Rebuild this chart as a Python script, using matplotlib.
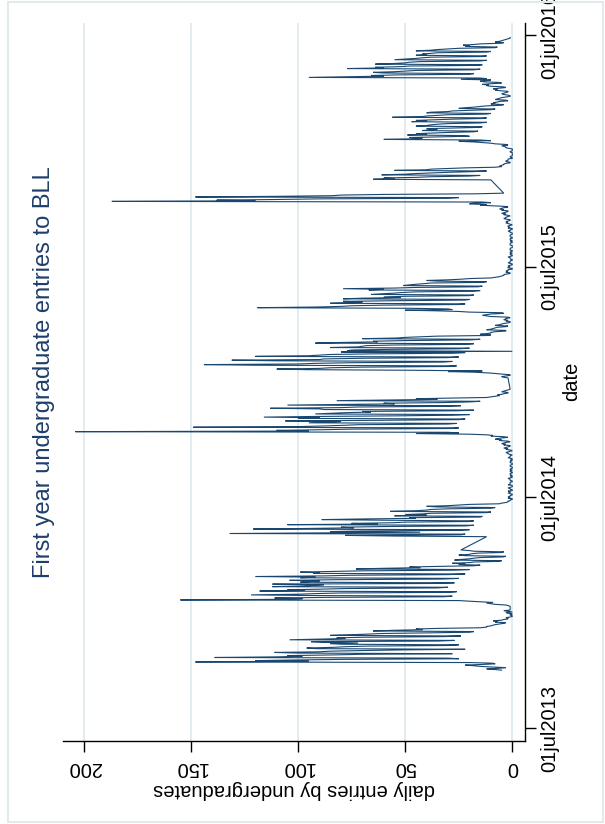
import numpy as np
import pandas as pd
import matplotlib
matplotlib.use('Agg')
import matplotlib.pyplot as plt
import matplotlib.dates as mdates
from matplotlib.patches import Rectangle

plt.rcParams['font.family'] = ['Liberation Sans', 'DejaVu Sans']

# ---------------- data (daily entries) ----------------
pre_mt13 = [5, 8, 12, 6, 3, 10, 15, 18, 22, 14, 8, 9, 20]
mt13 = [148, 95, 120, 103, 80, 25, 30,
        139, 110, 98, 105, 85, 71, 28,
        100, 111, 90, 85, 70, 51, 22,
        92, 96, 84, 78, 68, 30, 25,
        80, 85, 72, 88, 94, 35, 27,
        104, 90, 78, 82, 70, 32, 24,
        85, 75, 68, 60, 38, 20, 18,
        65, 55, 42, 45, 35, 15, 12]
xmas13 = [12, 10, 9, 8, 6, 4, 3,
          8, 7, 9, 5, 4, 2, 2,
          3, 1, 0, 0, 1, 1, 0,
          2, 3, 0, 2, 4, 1, 1,
          1, 1, 1, 1, 1, 2, 3,
          8, 10, 12, 9, 15, 20, 25]
ht14 = [155, 105, 98, 111, 88, 32, 28,
        95, 122, 100, 92, 80, 30, 26,
        118, 97, 105, 90, 78, 35, 30,
        112, 100, 92, 88, 112, 38, 27,
        99, 95, 90, 104, 82, 33, 25,
        99, 92, 120, 88, 75, 30, 22,
        93, 90, 99, 85, 70, 28, 20,
        73, 60, 43, 48, 35, 18, 15]
easter14 = [25, 22, 28, 20, 18, 6, 5,
            27, 24, 20, 18, 15, 4, 3,
            22, 25, 20, 19, 16, 5, 4,
            18, 20, 24]
tt14 = [12, 55, 78, 24, 22,
        132, 90, 43, 85, 70, 25, 20,
        121, 95, 74, 80, 60, 22, 18,
        105, 63, 75, 56, 50, 20, 18,
        60, 89, 70, 45, 48, 15, 14,
        55, 40, 50, 42, 38, 12, 10,
        57, 45, 40, 38, 30, 10, 8,
        35, 40, 30, 25, 20, 6, 5]
summer14 = [3, 2, 2, 1, 1, 0, 0,
            2, 1, 2, 1, 1, 0, 0,
            1, 2, 1, 1, 2, 0, 0,
            1, 1, 2, 1, 0, 0, 0,
            2, 1, 1, 1, 1, 0, 0,
            1, 1, 1, 2, 1, 0, 0,
            1, 0, 1, 1, 1, 0, 0,
            1, 1, 0, 1, 1, 0, 0,
            0, 1, 1, 1, 0, 0, 0,
            1, 1, 1, 0, 1, 0, 0,
            1, 2, 1, 1, 1, 0, 1,
            2, 2, 3, 2, 1, 0, 1,
            3, 2, 4, 3, 2, 1, 1,
            4, 3, 5, 4, 3, 1, 2,
            6, 5, 8, 7, 5, 2, 4,
            10, 9, 12, 20, 45, 25, 30]
mt14 = [204, 95, 110, 90, 75, 28, 25,
        149, 100, 88, 79, 72, 30, 26,
        95, 88, 80, 106, 60, 25, 22,
        100, 90, 116, 93, 54, 28, 20,
        92, 85, 78, 66, 70, 26, 18,
        88, 90, 113, 80, 72, 30, 24,
        105, 78, 55, 60, 32, 20, 15,
        82, 60, 35, 45, 30, 12, 10]
xmas14a = [8, 6, 7, 5, 4, 2, 2, 5, 4, 3, 2, 1]
jan15 = [2, 4, 5, 3, 1, 1]
ht15 = [5, 8, 12, 18, 30, 14, 45,
        96, 110, 90, 85, 70, 30, 26,
        120, 144, 100, 92, 75, 32, 28,
        110, 131, 90, 88, 70, 30, 25,
        120, 95, 90, 85, 65, 28, 22,
        80, 0, 77, 75, 60, 25, 20,
        85, 72, 70, 68, 55, 22, 18,
        92, 80, 63, 65, 50, 20, 15,
        70, 54, 50, 42, 35, 12, 10]
easter15 = [15, 12, 10, 10, 8, 3, 3,
            12, 10, 9, 8, 7, 3, 2,
            8, 6, 5, 4, 2, 1, 1,
            3, 2, 4, 3, 3, 1, 2,
            10, 12, 14, 12, 10, 4, 5,
            20, 25, 35, 50, 28]
tt15 = [30, 48,
        119, 92, 80, 75, 60, 25, 22,
        85, 74, 70, 79, 55, 22, 20,
        79, 70, 52, 60, 50, 20, 18,
        66, 60, 55, 51, 45, 18, 15,
        67, 60, 79, 55, 45, 16, 14,
        51, 48, 45, 41, 38, 14, 12,
        35, 40, 30, 24, 20, 10, 8]
summer15 = [6, 5, 4, 4, 3, 1, 1,
            3, 2, 3, 2, 2, 0, 0,
            2, 2, 1, 2, 1, 0, 0,
            1, 2, 1, 1, 1, 0, 0,
            1, 1, 1, 2, 1, 0, 0,
            1, 1, 0, 1, 1, 0, 0,
            1, 1, 1, 1, 0, 0, 0,
            0, 1, 1, 1, 1, 0, 0,
            1, 0, 1, 1, 1, 0, 0,
            1, 1, 1, 1, 0, 0, 0,
            1, 1, 2, 1, 1, 0, 0,
            2, 1, 2, 2, 1, 0, 1,
            2, 3, 2, 3, 2, 1, 1,
            3, 4, 3, 3, 2, 1, 2,
            4, 3, 5, 4, 3, 2, 2,
            5, 4, 6, 5, 4, 2, 3]
mt15a = [9, 15, 12, 20, 19, 10, 14,
         187, 120, 138, 110, 90, 30, 25,
         148, 110, 84, 80, 60, 17, 4]
mt15b = [10,
         65, 55, 60, 45, 38, 20, 15,
         61, 50, 45, 38, 30, 19, 12,
         55, 40, 38, 30, 22, 8, 5]
xmas15 = [6, 5, 4, 4, 3, 1, 1,
          3, 3, 2, 2, 2, 0, 0,
          1, 1, 0, 0, 0, 0, 0,
          0, 1, 1, 0, 0, 0, 0,
          2, 3, 3, 4, 5, 2, 3,
          8, 10, 14]
ht16 = [18, 25, 10, 15,
        60, 45, 42, 48, 35, 20, 23,
        49, 40, 45, 38, 30, 18, 16,
        42, 38, 35, 40, 28, 15, 14,
        45, 40, 38, 35, 30, 15, 12,
        47, 40, 45, 36, 28, 14, 12,
        56, 42, 40, 35, 30, 12, 10,
        40, 38, 30, 28, 20, 10, 8,
        25, 22, 18, 15, 12, 5, 4]
easter16 = [10, 8, 9, 7, 6, 2, 3,
            8, 7, 6, 5, 3, 1, 1,
            2, 4, 5, 4, 3, 2, 2,
            6, 8, 7, 9, 6, 3, 4,
            10, 12, 11, 14, 10, 5, 6,
            13, 15, 12]
tt16 = [10, 24, 12, 15,
        95, 76, 60, 66, 53, 20, 18,
        60, 65, 55, 50, 45, 18, 15,
        77, 60, 64, 52, 48, 16, 14,
        64, 55, 50, 48, 43, 15, 12,
        55, 50, 45, 42, 38, 14, 12,
        45, 40, 42, 38, 35, 12, 10,
        45, 38, 35, 30, 25, 8, 7,
        22, 20, 23, 18, 15, 5, 4,
        8, 6, 5, 4, 3, 2, 1,
        1]

segment_starts = ['2013-10-01', '2013-10-14', '2013-12-09', '2014-01-20', '2014-03-17',
                  '2014-04-30', '2014-06-23', '2014-10-13', '2014-12-08', '2015-01-06',
                  '2015-01-12', '2015-03-16', '2015-04-25', '2015-06-15', '2015-10-05',
                  '2015-11-15', '2015-12-07', '2016-01-14', '2016-03-14', '2016-04-21']
segment_values = [pre_mt13, mt13, xmas13, ht14, easter14,
                  tt14, summer14, mt14, xmas14a, jan15,
                  ht15, easter15, tt15, summer15, mt15a,
                  mt15b, xmas15, ht16, easter16, tt16]

value_ticks = [0, 50, 100, 150, 200]
date_ticks = ['2013-07-01', '2014-07-01', '2015-07-01', '2016-07-01']
date_labels = ['01jul2013', '01jul2014', '01jul2015', '01jul2016']

title = 'First year undergraduate entries to BLL'
xtitle = 'date'
ytitle = 'daily entries by undergraduates'

# ---------------- build series ----------------
dates, vals = [], []
for start, v in zip(segment_starts, segment_values):
    d = pd.date_range(start, periods=len(v), freq='D')
    dates.extend(d.to_pydatetime())
    vals.extend(v)
dnum = mdates.date2num(dates)

W, H = 605, 824
fig = plt.figure(figsize=(W / 100, H / 100), dpi=100)
fig.patch.set_facecolor('white')

ax = fig.add_axes([63 / W, 1 - 741 / H, (525 - 63) / W, (741 - 23) / H])
ax.set_facecolor('white')

line_color = '#1A476F'
ax.plot(vals, dnum, color=line_color, lw=0.8, solid_joinstyle='miter')

d0 = mdates.date2num(pd.Timestamp('2013-07-01').to_pydatetime())
ax.set_ylim(d0 - 20, d0 + 1115)
ax.set_xlim(209.8, -5.93)

# gridlines
ax.set_xticks(value_ticks)
ax.set_xticklabels([str(v) for v in value_ticks])
ax.xaxis.grid(True, color='#E1EAEF', lw=1.3)
ax.yaxis.grid(False)
ax.set_axisbelow(True)

ax.set_yticks(mdates.date2num([pd.Timestamp(t).to_pydatetime() for t in date_ticks]))
ax.set_yticklabels(date_labels)
ax.yaxis.tick_right()

for s in ['top', 'left']:
    ax.spines[s].set_visible(False)
for s in ['bottom', 'right']:
    ax.spines[s].set_color('black')
    ax.spines[s].set_linewidth(1.0)

ax.tick_params(axis='x', direction='out', length=8, width=1, pad=4,
               labelsize=14.5, labelrotation=180, colors='black')
ax.tick_params(axis='y', direction='out', length=8, width=1, pad=3,
               labelsize=14.5, labelrotation=90, colors='black',
               right=True, left=False, labelright=True, labelleft=False)
for t in ax.get_yticklabels():
    t.set_verticalalignment('center')

fig.text(44 / W, 1 - 372 / H, title, rotation=90, ha='center', va='center',
         fontsize=17, color='#1E3E6B')
fig.text(572 / W, 1 - 381 / H, xtitle, rotation=90, ha='center', va='center',
         fontsize=14.5, color='black')
fig.text(294 / W, 1 - 789 / H, ytitle, rotation=180, ha='center', va='center',
         fontsize=14.5, color='black')

fig.patches.append(Rectangle((8 / W, 1 - 822 / H), (603 - 8) / W, (822 - 2) / H,
                             transform=fig.transFigure, fill=False,
                             edgecolor='#E3EAEE', lw=1.5))

fig.savefig('out.png', dpi=100, facecolor='white')
